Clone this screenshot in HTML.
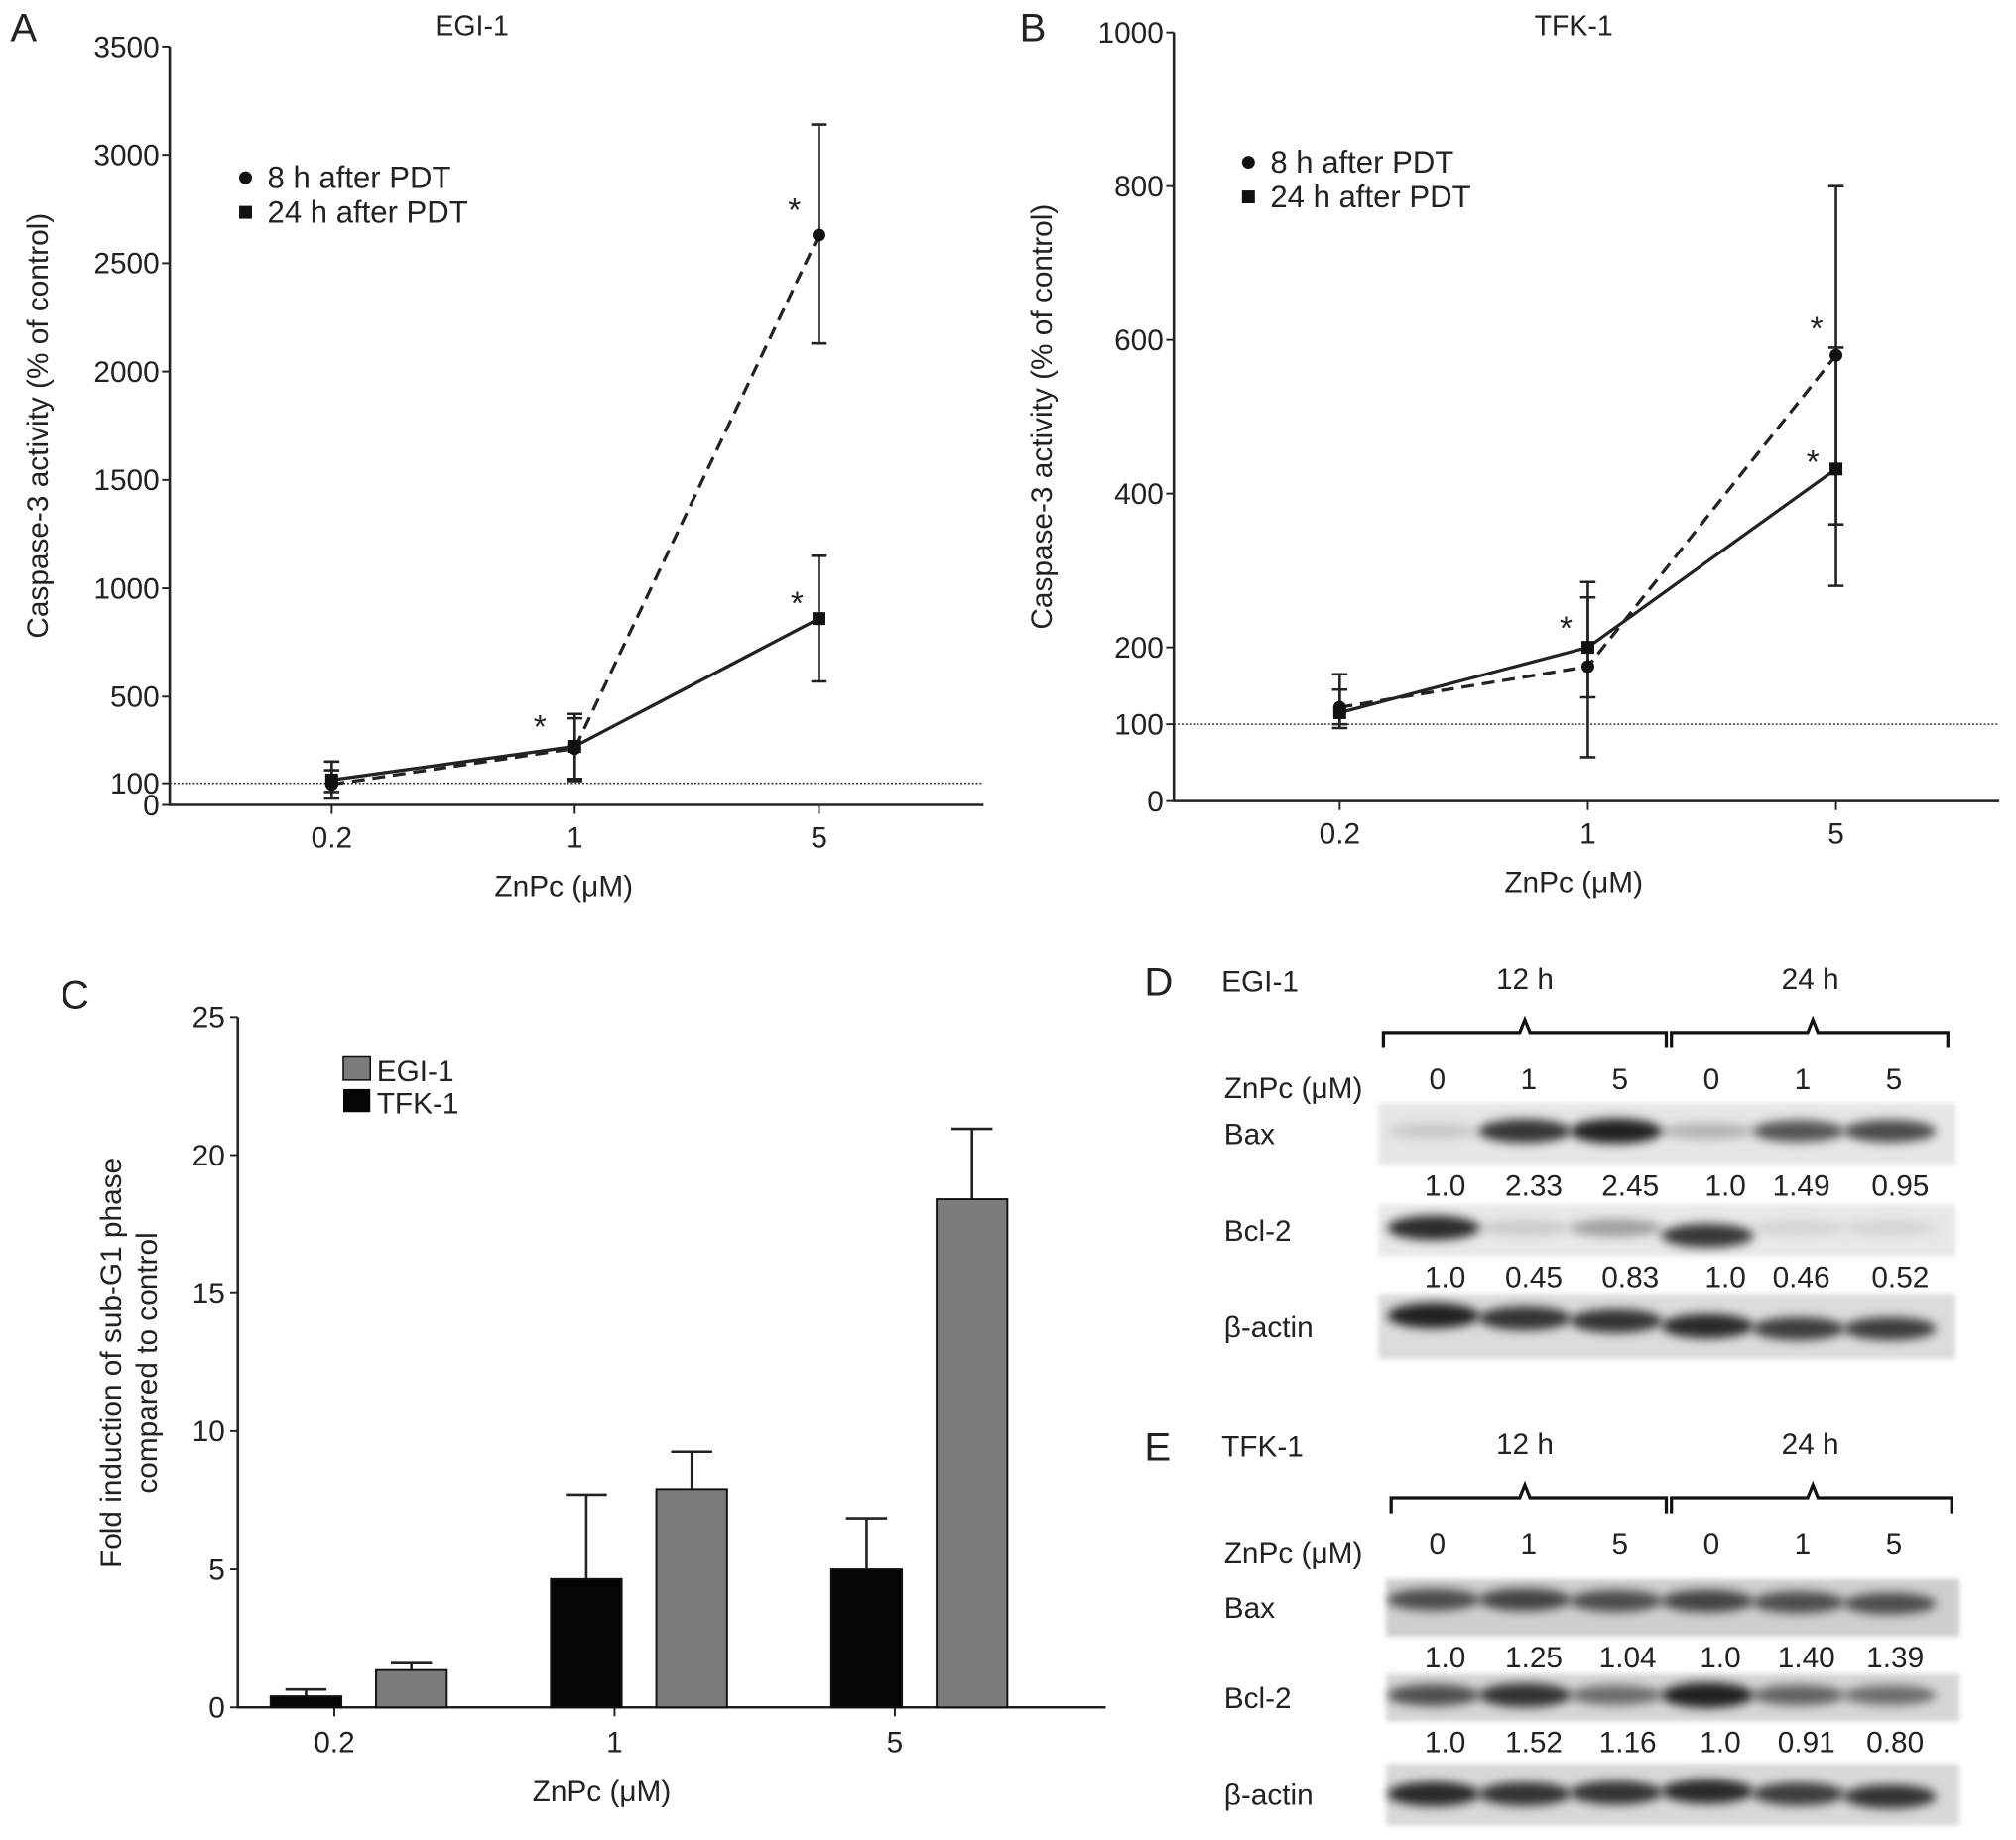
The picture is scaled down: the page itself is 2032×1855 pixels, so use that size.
<!DOCTYPE html>
<html><head><meta charset="utf-8"><style>
html,body{margin:0;padding:0;background:#fff;}
svg{display:block;font-family:"Liberation Sans",sans-serif;}
</style></head><body>
<svg id="fig" width="2032" height="1855" viewBox="0 0 1568 1431" xmlns="http://www.w3.org/2000/svg">
<defs>
<filter id="blur" x="-20%" y="-100%" width="140%" height="300%"><feGaussianBlur stdDeviation="4"/></filter>
<filter id="blur2" x="-5%" y="-20%" width="110%" height="140%"><feGaussianBlur stdDeviation="2"/></filter>
</defs>
<g id="panelA"></g>
<g id="panelB"></g>
<g id="panelC"></g>
<g id="panelD"></g>
<g id="panelE"></g>
</svg>
<script>
// Panel A (EGI-1)
const doseLabels = ["0.2","1","5"];
const aMean8 = [95, 260, 2630];
const aLo8 = [30, 120, 2130];
const aHi8 = [160, 400, 3140];
const aMean24 = [115, 270, 860];
const aLo24 = [60, 110, 570];
const aHi24 = [200, 420, 1150];
const aTicks = [0,100,500,1000,1500,2000,2500,3000,3500];
// Panel B (TFK-1)
const bMean8 = [122, 175, 580];
const bLo8 = [100, 57, 360];
const bHi8 = [165, 265, 800];
const bMean24 = [115, 200, 432];
const bLo24 = [95, 135, 280];
const bHi24 = [145, 285, 590];
const bTicks = [0,100,200,400,600,800,1000];
// Panel C
const cTFK = [0.4, 4.65, 5.0];
const cTFKerr = [0.65, 7.7, 6.85];
const cEGI = [1.35, 7.9, 18.4];
const cEGIerr = [1.6, 9.25, 20.95];
const cTicks = [0,5,10,15,20,25];

const NS="http://www.w3.org/2000/svg";
function el(parent, tag, attrs, text){
  const e=document.createElementNS(NS,tag);
  for(const k in attrs) e.setAttribute(k,attrs[k]);
  if(text!==undefined) e.textContent=text;
  parent.appendChild(e); return e;
}
function txt(p,x,y,s,size,anchor,name){
  const t=el(p,'text',{x:x,y:y,'font-size':size,'text-anchor':anchor||'start',fill:'#222'},s);
  
  
  return t;
}

function linePanel(g, o){
  const y=v=>o.y0-(v-o.vmin)/(o.vmax-o.vmin)*(o.y0-o.y1);
  const x=i=>o.xs[i];
  txt(g,o.letterX,32,o.letter,31,'start','panel-letter');
  txt(g,o.titleX,27,o.title,22,'middle','chart-title');
  let ax=el(g,'path',{d:`M${o.ax},${o.y1}V${o.y0}H${o.axEnd}`,stroke:'#222','stroke-width':2,fill:'none'});
  
  
  o.ticks.forEach(t=>{
    el(g,'line',{x1:o.ax-6,x2:o.ax,y1:y(t),y2:y(t),stroke:'#222','stroke-width':1.5});
    txt(g,o.ax-8,y(t)+8,String(t),23,'end','y-tick-label');
  });
  doseLabels.forEach((d,i)=>{
    el(g,'line',{x1:x(i),x2:x(i),y1:o.y0,y2:o.y0+7,stroke:'#222','stroke-width':1.5});
    txt(g,x(i),o.y0+33,d,23,'middle','x-tick-label');
  });
  txt(g,(o.ax+o.axEnd)/2-10,o.y0+71,'ZnPc (μM)',23,'middle','x-axis-title');
  const yt=txt(g,0,0,'Caspase-3 activity (% of control)',23,'middle','y-axis-title');
  yt.setAttribute('transform',`translate(${o.ax-95},${(o.y0+o.y1)/2}) rotate(-90)`);
  let ref=el(g,'line',{x1:o.ax,x2:o.axEnd,y1:y(100),y2:y(100),stroke:'#333','stroke-width':1.2,'stroke-dasharray':'1.5,1.5'});
  
  
  [[o.lo8,o.hi8],[o.lo24,o.hi24]].forEach(([lo,hi])=>{
    lo.forEach((v,i)=>{
      const eb=el(g,'path',{d:`M${x(i)},${y(lo[i])}V${y(hi[i])}M${x(i)-6},${y(lo[i])}h12M${x(i)-6},${y(hi[i])}h12`,stroke:'#222','stroke-width':2,fill:'none'});
      
      
    });
  });
  let l8=el(g,'polyline',{points:o.m8.map((v,i)=>x(i)+','+y(v)).join(' '),stroke:'#222','stroke-width':2.5,fill:'none','stroke-dasharray':'10,6'});
  
  
  let l24=el(g,'polyline',{points:o.m24.map((v,i)=>x(i)+','+y(v)).join(' '),stroke:'#222','stroke-width':2.5,fill:'none'});
  
  
  o.m8.forEach((v,i)=>{
    const c=el(g,'circle',{cx:x(i),cy:y(v),r:5,fill:'#111'});
    
    
  });
  o.m24.forEach((v,i)=>{
    const r=el(g,'rect',{x:x(i)-5,y:y(v)-5,width:10,height:10,fill:'#111'});
    
    
  });
  o.stars.forEach(s=>txt(g,s[0],s[1],'*',26,'middle','significance-star'));
  const lc=el(g,'circle',{cx:o.legX,cy:o.legY,r:5,fill:'#111'});
  
  
  txt(g,o.legX+17,o.legY+8,'8 h after PDT',24,'start','legend-entry-8h');
  const ls=el(g,'rect',{x:o.legX-5,y:o.legY+22,width:10,height:10,fill:'#111'});
  
  
  txt(g,o.legX+17,o.legY+35,'24 h after PDT',24,'start','legend-entry-24h');
}

linePanel(document.getElementById('panelA'),{
  letter:'A',letterX:8,title:'EGI-1',titleX:367,ax:132,axEnd:765,y0:626,y1:36,vmin:0,vmax:3500,
  xs:[258,447,637],ticks:aTicks,m8:aMean8,lo8:aLo8,hi8:aHi8,m24:aMean24,lo24:aLo24,hi24:aHi24,
  stars:[[420,574],[618,172],[620,478]],legX:191,legY:138
});
linePanel(document.getElementById('panelB'),{
  letter:'B',letterX:793,title:'TFK-1',titleX:1224,ax:913,axEnd:1555,y0:623,y1:25,vmin:0,vmax:1000,
  xs:[1042,1235,1428],ticks:bTicks,m8:bMean8,lo8:bLo8,hi8:bHi8,m24:bMean24,lo24:bLo24,hi24:bHi24,
  stars:[[1218,497],[1413,264],[1410,368]],legX:971,legY:126
});

(function(){
  const g=document.getElementById('panelC');
  const y0=1328,y1=791,ax=185,axEnd=860;
  const y=v=>y0-v/25*(y0-y1);
  const gx=i=>280+i*218;
  txt(g,47,784,'C',31,'start','panel-letter');
  let a=el(g,'path',{d:`M${ax},${y1}V${y0}H${axEnd}`,stroke:'#222','stroke-width':2,fill:'none'});
  
  
  cTicks.forEach(t=>{
    el(g,'line',{x1:ax-6,x2:ax,y1:y(t),y2:y(t),stroke:'#222','stroke-width':1.5});
    txt(g,ax-10,y(t)+8,String(t),23,'end','y-tick-label');
  });
  doseLabels.forEach((d,i)=>{
    el(g,'line',{x1:gx(i)-20,x2:gx(i)-20,y1:y0,y2:y0+7,stroke:'#222','stroke-width':1.5});
    txt(g,gx(i)-20,y0+35,d,23,'middle','x-tick-label');
  });
  txt(g,468,1401,'ZnPc (μM)',23,'middle','x-axis-title');
  const t1=txt(g,0,0,'Fold induction of sub-G1 phase',23,'middle','y-axis-title');
  t1.setAttribute('transform','translate(94,1060) rotate(-90)');
  const t2=txt(g,0,0,'compared to control',23,'middle','y-axis-title-line2');
  t2.setAttribute('transform','translate(122,1060) rotate(-90)');
  const bw=55;
  function bars(vals,errs,off,fill,name){
    vals.forEach((v,i)=>{
      const cx=gx(i)+off;
      const eb=el(g,'path',{d:`M${cx},${y(v)}V${y(errs[i])}M${cx-16},${y(errs[i])}h32`,stroke:'#222','stroke-width':2,fill:'none'});
      
      
      const r=el(g,'rect',{x:cx-bw/2,y:y(v),width:bw,height:y0-y(v),fill:fill,stroke:'#111','stroke-width':1.5});
      
      
    });
  }
  bars(cTFK,cTFKerr,-42,'#050505','bar-tfk1');
  bars(cEGI,cEGIerr,40,'#7c7c7c','bar-egi1');
  const l1=el(g,'rect',{x:267,y:822,width:21,height:18,fill:'#7c7c7c',stroke:'#111','stroke-width':1.2});
  
  
  txt(g,293,841,'EGI-1',23,'start','legend-entry-egi1');
  const l2=el(g,'rect',{x:267,y:847,width:21,height:18,fill:'#050505'});
  
  
  txt(g,293,866,'TFK-1',23,'start','legend-entry-tfk1');
})();

function blotPanel(g,o){
  txt(g,890,o.top+9,o.letter,31,'start','panel-letter');
  txt(g,950,o.top+6,o.cell,23,'start','cell-line-label');
  txt(g,1186,o.top+4,'12 h',23,'middle','time-label-12h');
  txt(g,1408,o.top+4,'24 h',23,'middle','time-label-24h');
  const by=o.top+28;
  [[o.bx[0],1296,1186],[1300,o.bx[1],1410]].forEach(b=>{
    const p=el(g,'path',{d:`M${b[0]},${by+22}V${by+10}H${b[2]-4}L${b[2]},${by}L${b[2]+4},${by+10}H${b[1]}V${by+22}`,stroke:'#111','stroke-width':2.5,fill:'none'});
    
    
  });
  txt(g,952,o.top+89,'ZnPc (μM)',23,'start','dose-label');
  const lanes=[1118,1189,1260,1331,1402,1473];
  ['0','1','5','0','1','5'].forEach((d,i)=>txt(g,lanes[i],o.top+82,d,23,'middle','lane-dose'));
  o.rows.forEach(r=>{
    txt(g,952,r.y+r.h/2+8,r.label,23,'start','blot-row-label');
    const bg=el(g,'rect',{x:o.bx[0]-4,y:r.y,width:o.bx[1]-o.bx[0]+10,height:r.h,fill:r.bg,filter:'url(#blur2)'});
    
    
    r.int.forEach((v,i)=>{
      if(v<=0) return;
      const e=el(g,'ellipse',{cx:lanes[i]-3,cy:r.y+r.h*0.45+(r.dy?r.dy[i]:0),rx:36,ry:5+v*5,fill:'#000','fill-opacity':Math.min(1,v*0.9),filter:'url(#blur)'});
      
      
    });
    if(r.nums){
      r.nums.forEach((n,i)=>txt(g,r.nx[i],r.y+r.h+24,n,23,'middle','quantification-value'));
    }
  });
}
const nxD=[1124,1193,1268,1342,1401,1478];
blotPanel(document.getElementById('panelD'),{letter:'D',cell:'EGI-1',top:765,bx:[1076,1515],rows:[
  {label:'Bax',y:858,h:48,bg:'#e6e6e6',int:[0.15,0.85,0.95,0.25,0.7,0.75],nums:['1.0','2.33','2.45','1.0','1.49','0.95'],nx:nxD},
  {label:'Bcl-2',y:937,h:40,bg:'#e8e8e8',int:[0.9,0.15,0.35,0.85,0.1,0.1],dy:[0,0,0,6,0,0],nums:['1.0','0.45','0.83','1.0','0.46','0.52'],nx:nxD},
  {label:'β-actin',y:1007,h:50,bg:'#dcdcdc',int:[0.95,0.85,0.85,0.9,0.8,0.8],dy:[-6,-4,-2,2,4,4]}
]});
const nxE=[1124,1193,1266,1338,1405,1474];
blotPanel(document.getElementById('panelE'),{letter:'E',cell:'TFK-1',top:1127,bx:[1082,1518],rows:[
  {label:'Bax',y:1228,h:45,bg:'#cfcfcf',int:[0.7,0.75,0.7,0.75,0.7,0.7],dy:[-4,-4,-3,-3,-2,-1],nums:['1.0','1.25','1.04','1.0','1.40','1.39'],nx:nxE},
  {label:'Bcl-2',y:1302,h:37,bg:'#d6d6d6',int:[0.7,0.85,0.55,0.95,0.6,0.55],nums:['1.0','1.52','1.16','1.0','0.91','0.80'],nx:nxE},
  {label:'β-actin',y:1372,h:48,bg:'#d8d8d8',int:[0.9,0.85,0.85,0.9,0.8,0.85],dy:[2,2,1,0,2,4]}
]});
</script>
</body></html>
